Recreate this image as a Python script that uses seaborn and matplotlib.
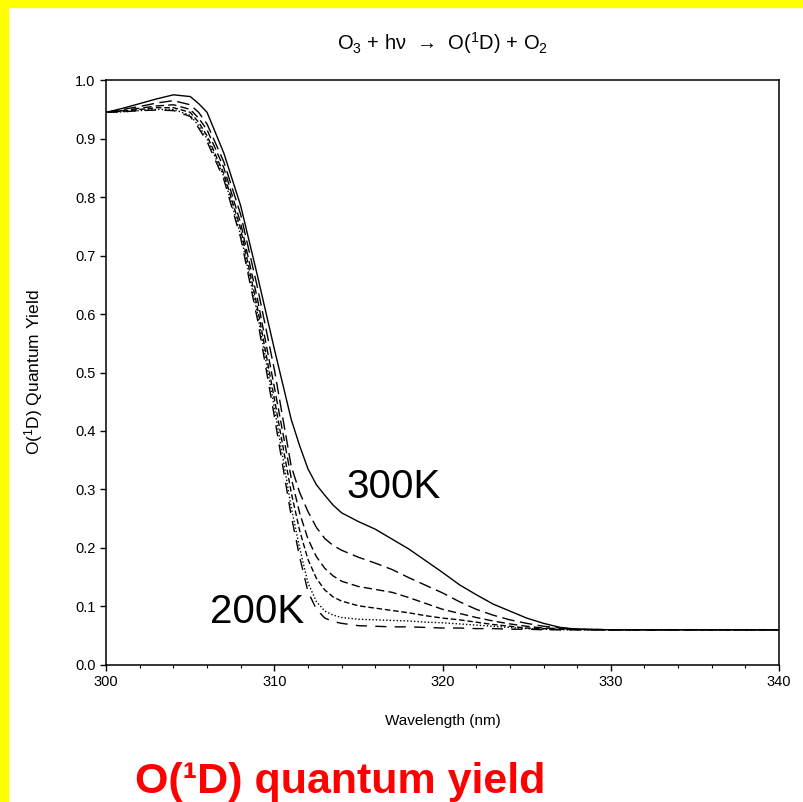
import numpy as np
import pandas as pd
import seaborn as sns
import matplotlib.pyplot as plt
from matplotlib.patches import Rectangle
from matplotlib.ticker import MultipleLocator

# wavelength grid (nm)
wavelength = [300, 301, 302, 303, 304, 305, 305.5, 306, 307, 308, 309, 310, 311, 311.5,
              312, 312.5, 313, 313.5, 314, 315, 316, 317, 318, 319, 320, 321, 322, 323,
              324, 325, 326, 327, 328, 330, 335, 340]

# O(1D) quantum yield, one curve per temperature
qy_300 = [0.945, 0.952, 0.960, 0.968, 0.975, 0.972, 0.960, 0.945, 0.875, 0.785, 0.665,
          0.540, 0.420, 0.375, 0.335, 0.308, 0.290, 0.273, 0.260, 0.245, 0.232, 0.215,
          0.198, 0.178, 0.158, 0.137, 0.120, 0.104, 0.092, 0.080, 0.071, 0.064, 0.061,
          0.060, 0.060, 0.060]
qy_280 = [0.945, 0.950, 0.955, 0.961, 0.965, 0.958, 0.945, 0.925, 0.860, 0.770, 0.645,
          0.505, 0.340, 0.295, 0.262, 0.235, 0.216, 0.204, 0.196, 0.184, 0.174, 0.163,
          0.149, 0.136, 0.123, 0.108, 0.095, 0.085, 0.077, 0.071, 0.066, 0.063, 0.061,
          0.060, 0.060, 0.060]
qy_260 = [0.945, 0.948, 0.952, 0.956, 0.958, 0.950, 0.935, 0.915, 0.850, 0.755, 0.625,
          0.475, 0.320, 0.260, 0.215, 0.185, 0.165, 0.152, 0.143, 0.134, 0.129, 0.124,
          0.115, 0.105, 0.095, 0.088, 0.081, 0.075, 0.070, 0.066, 0.063, 0.062, 0.061,
          0.060, 0.060, 0.060]
qy_240 = [0.945, 0.947, 0.950, 0.953, 0.953, 0.945, 0.928, 0.905, 0.840, 0.745, 0.610,
          0.455, 0.295, 0.230, 0.180, 0.148, 0.128, 0.116, 0.109, 0.101, 0.097, 0.093,
          0.089, 0.084, 0.080, 0.077, 0.073, 0.069, 0.066, 0.063, 0.062, 0.061, 0.060,
          0.060, 0.060, 0.060]
qy_220 = [0.945, 0.946, 0.948, 0.950, 0.950, 0.940, 0.922, 0.900, 0.835, 0.735, 0.600,
          0.440, 0.270, 0.200, 0.140, 0.108, 0.092, 0.085, 0.081, 0.078, 0.077, 0.076,
          0.075, 0.073, 0.072, 0.070, 0.068, 0.066, 0.064, 0.062, 0.061, 0.060, 0.060,
          0.060, 0.060, 0.060]
qy_200 = [0.945, 0.946, 0.948, 0.949, 0.948, 0.938, 0.918, 0.895, 0.830, 0.730, 0.590,
          0.425, 0.255, 0.185, 0.125, 0.095, 0.080, 0.074, 0.071, 0.067, 0.066, 0.065,
          0.065, 0.064, 0.063, 0.063, 0.062, 0.062, 0.061, 0.061, 0.060, 0.060, 0.060,
          0.060, 0.060, 0.060]

temps = ["300K", "280K", "260K", "240K", "220K", "200K"]
curves = [qy_300, qy_280, qy_260, qy_240, qy_220, qy_200]

rows = []
for t, qy in zip(temps, curves):
    for w, q in zip(wavelength, qy):
        rows.append({"wavelength": w, "qy": q, "T": t})
df = pd.DataFrame(rows)

sns.set_style("ticks")
plt.rcParams["font.family"] = ["Liberation Sans", "DejaVu Sans"]
plt.rcParams["mathtext.fontset"] = "custom"
plt.rcParams["mathtext.rm"] = "Liberation Sans"
plt.rcParams["mathtext.it"] = "Liberation Sans"
plt.rcParams["text.color"] = "black"
plt.rcParams["axes.labelcolor"] = "black"
plt.rcParams["xtick.color"] = "black"
plt.rcParams["ytick.color"] = "black"

fig = plt.figure(figsize=(8.04, 8.02), dpi=100)
fig.patch.set_facecolor("white")
# yellow frame on top and left
fig.patches.append(Rectangle((0, 0.991), 1, 0.009, transform=fig.transFigure,
                             color="#FFFF00", zorder=0))
fig.patches.append(Rectangle((0, 0), 0.010, 1, transform=fig.transFigure,
                             color="#FFFF00", zorder=0))

ax = fig.add_axes([0.132, 0.171, 0.837, 0.729])

dash_map = {"300K": "", "280K": (9, 4), "260K": (6, 3), "240K": (4, 2),
            "220K": (1, 1.5), "200K": (8, 6)}
sns.lineplot(data=df, x="wavelength", y="qy", style="T", dashes=dash_map,
             color="black", linewidth=1.0, legend=False, ax=ax)

ax.set_xlim(300, 340)
ax.set_ylim(0, 1.0)
ax.set_xticks([300, 310, 320, 330, 340])
ax.xaxis.set_minor_locator(MultipleLocator(2))
ax.set_yticks(np.arange(0, 1.01, 0.1))
ax.set_yticklabels([f"{v:.1f}" for v in np.arange(0, 1.01, 0.1)])
ax.tick_params(axis="both", which="major", direction="out", length=4, width=1,
               labelsize=10.5, colors="black")
ax.tick_params(axis="x", which="minor", direction="out", length=2.5, width=0.8)
for s in ax.spines.values():
    s.set_visible(True)
    s.set_linewidth(1.1)
    s.set_color("black")

ax.set_xlabel("Wavelength (nm)", fontsize=11, labelpad=18)
ax.set_ylabel("O($^1$D) Quantum Yield", fontsize=12.5, labelpad=22)
ax.set_title("O$_3$ + hν  →  O($^1$D) + O$_2$", fontsize=14.5, pad=22)

ax.text(314.3, 0.305, "300K", fontsize=29, ha="left", va="center")
ax.text(306.2, 0.090, "200K", fontsize=29, ha="left", va="center")

fig.text(0.168, 0.025, "O(¹D) quantum yield", fontsize=31, fontweight="bold",
         color="#FF0000", ha="left", va="center")

plt.savefig("out.png", dpi=100)
